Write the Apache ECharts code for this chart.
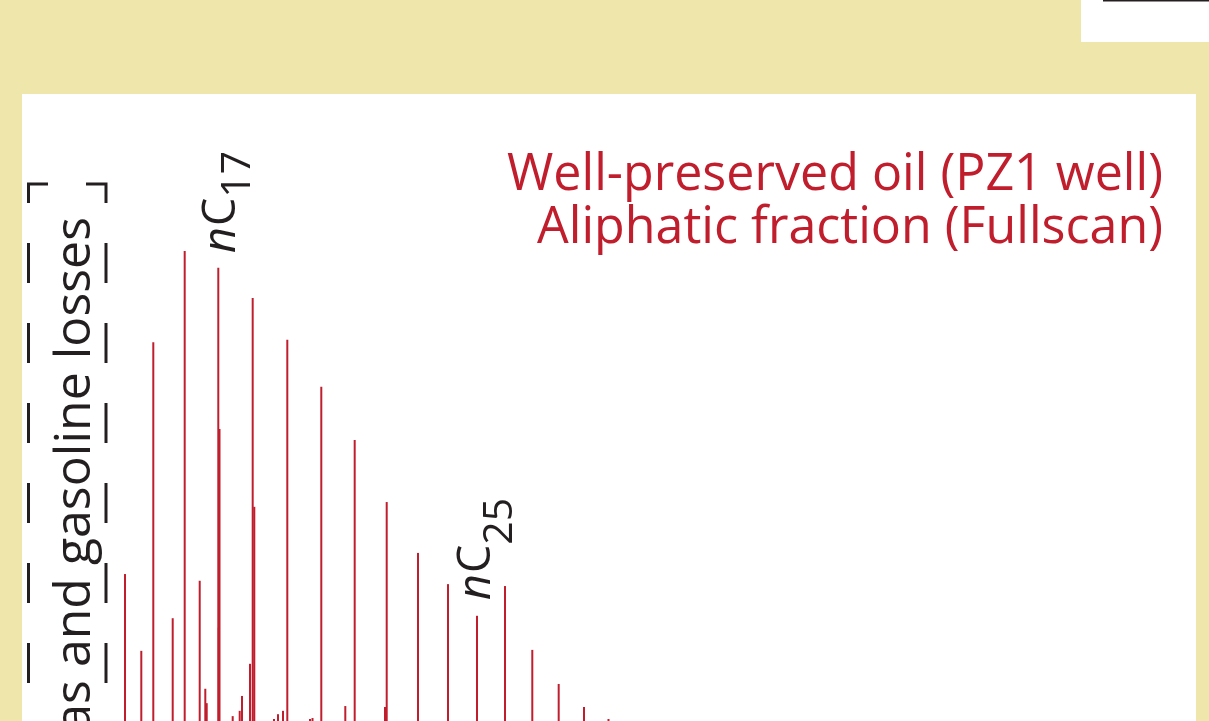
<!DOCTYPE html>
<html><head><meta charset="utf-8">
<script src="https://cdn.jsdelivr.net/npm/echarts@6/dist/echarts.min.js"></script>
<style>html,body{margin:0;padding:0;background:#efe6ab;}#c{width:1209px;height:721px;}</style>
</head><body><div id="c"></div>
<script>
// Retention time (min) of each peak and relative intensity (% of tallest peak)
const retentionTimes = [5.264, 6.097, 6.710, 7.702, 8.315, 9.082, 9.368, 9.440, 10.032, 10.094, 10.058,
  10.768, 11.126, 11.244, 11.652, 11.790, 11.872, 12.879, 13.083, 13.339, 13.559, 14.719, 14.847,
  15.296, 16.523, 17.003, 18.552, 18.639, 20.238, 21.772, 23.254, 24.685, 26.080, 27.429, 28.722, 29.974];
const intensities = [32.7, 16.7, 81.0, 23.5, 100, 31.3, 8.8, 5.8, 96.5, 62.9, 21.5,
  3.1, 4.2, 7.3, 14.0, 90.2, 46.7, 2.5, 3.5, 4.2, 81.5, 2.5, 2.7,
  71.7, 5.2, 60.6, 5.0, 47.7, 37.1, 30.6, 24.0, 30.2, 16.9, 9.8, 5.0, 2.5];
const peakLabelNames = ['17', '25'];
const titleLines = ['Well-preserved oil (PZ1 well)', 'Aliphatic fraction (Fullscan)'];
const sideLabel = 'Gas and gasoline losses';

const RED = '#c01e2d', INK = '#231f20', BEIGE = '#efe6ab';
const FONT = '"Open Sans", "Noto Sans", sans-serif';
const mctx = document.createElement('canvas').getContext('2d');
function measure(t, font) { mctx.font = font; return mctx.measureText(t).width; }

function titleText(t, yBase, targetW) {
  const fs = 52, font = fs + 'px ' + FONT;
  return { type: 'text', x: 1163, y: yBase, scaleX: targetW / measure(t, font), z: 20,
    style: { text: t, x: 0, y: -0.285 * fs, font: font, fill: RED, align: 'right', verticalAlign: 'middle' } };
}
function peakLabel(x, y, sub, subShift) {
  const fm = 45, fsub = 41;
  const fN = 'italic ' + fm + 'px ' + FONT, fC = fm + 'px ' + FONT, fS = fsub + 'px ' + FONT;
  const wn = measure('n', fN), wC = measure('C', fC);
  return { type: 'group', x: x, y: y, rotation: Math.PI / 2, z: 20, children: [
    { type: 'text', style: { text: 'n', x: 0, y: -0.285 * fm, font: fN, fill: INK, verticalAlign: 'middle' } },
    { type: 'text', style: { text: 'C', x: wn + 1, y: -0.285 * fm, font: fC, fill: INK, verticalAlign: 'middle' } },
    { type: 'text', style: { text: sub, x: wn + wC + 1, y: subShift - 0.285 * fsub, font: fS, fill: INK, verticalAlign: 'middle' } }
  ] };
}
function seg(points, dash) {
  return { type: 'polyline', z: 20, shape: { points: points },
    style: { stroke: INK, lineWidth: 3, fill: null, lineDash: dash || null, lineCap: 'butt' } };
}

const chart = echarts.init(document.getElementById('c'), null, { renderer: 'canvas' });
const sideFs = 50;
chart.setOption({
  backgroundColor: BEIGE,
  animation: false,
  grid: { left: 22, right: 13, top: 251, bottom: -10, outerBoundsMode: 'none', containLabel: false },
  xAxis: { type: 'value', min: 0, max: 60, show: false },
  yAxis: { type: 'value', min: 0, max: 100, show: false },
  graphic: [
    { type: 'rect', z: -10, shape: { x: 22, y: 94, width: 1174, height: 700 }, style: { fill: '#ffffff' } },
    { type: 'rect', z: -10, shape: { x: 1081, y: 0, width: 128, height: 42 }, style: { fill: '#ffffff' } },
    { type: 'rect', z: -9, shape: { x: 1103, y: 0, width: 106, height: 1.5 }, style: { fill: INK } },
    titleText(titleLines[0], 190, 656),
    titleText(titleLines[1], 243, 626),
    peakLabel(235, 253, peakLabelNames[0], 15),
    peakLabel(490, 600, peakLabelNames[1], 22),
    { type: 'group', x: 90, y: 217, rotation: Math.PI / 2, z: 20, children: [
      { type: 'text', style: { text: sideLabel, x: 0, y: -0.285 * sideFs, font: sideFs + 'px ' + FONT,
        fill: INK, align: 'right', verticalAlign: 'middle' } } ] },
    seg([[28.5, 203], [28.5, 184], [48, 184]]),
    seg([[86, 184], [106, 184], [106, 203]]),
    seg([[28.5, 243], [28.5, 721]], [40, 40]),
    seg([[106, 243], [106, 721]], [40, 40])
  ],
  series: [{
    type: 'custom',
    clip: false,
    data: retentionTimes.map((t, i) => [t, intensities[i]]),
    renderItem: function (params, api) {
      const p0 = api.coord([api.value(0), 0]);
      const p1 = api.coord([api.value(0), api.value(1)]);
      return { type: 'rect', shape: { x: p0[0] - 1, y: p1[1], width: 2, height: p0[1] - p1[1] },
        style: { fill: RED } };
    }
  }]
});
</script></body></html>
